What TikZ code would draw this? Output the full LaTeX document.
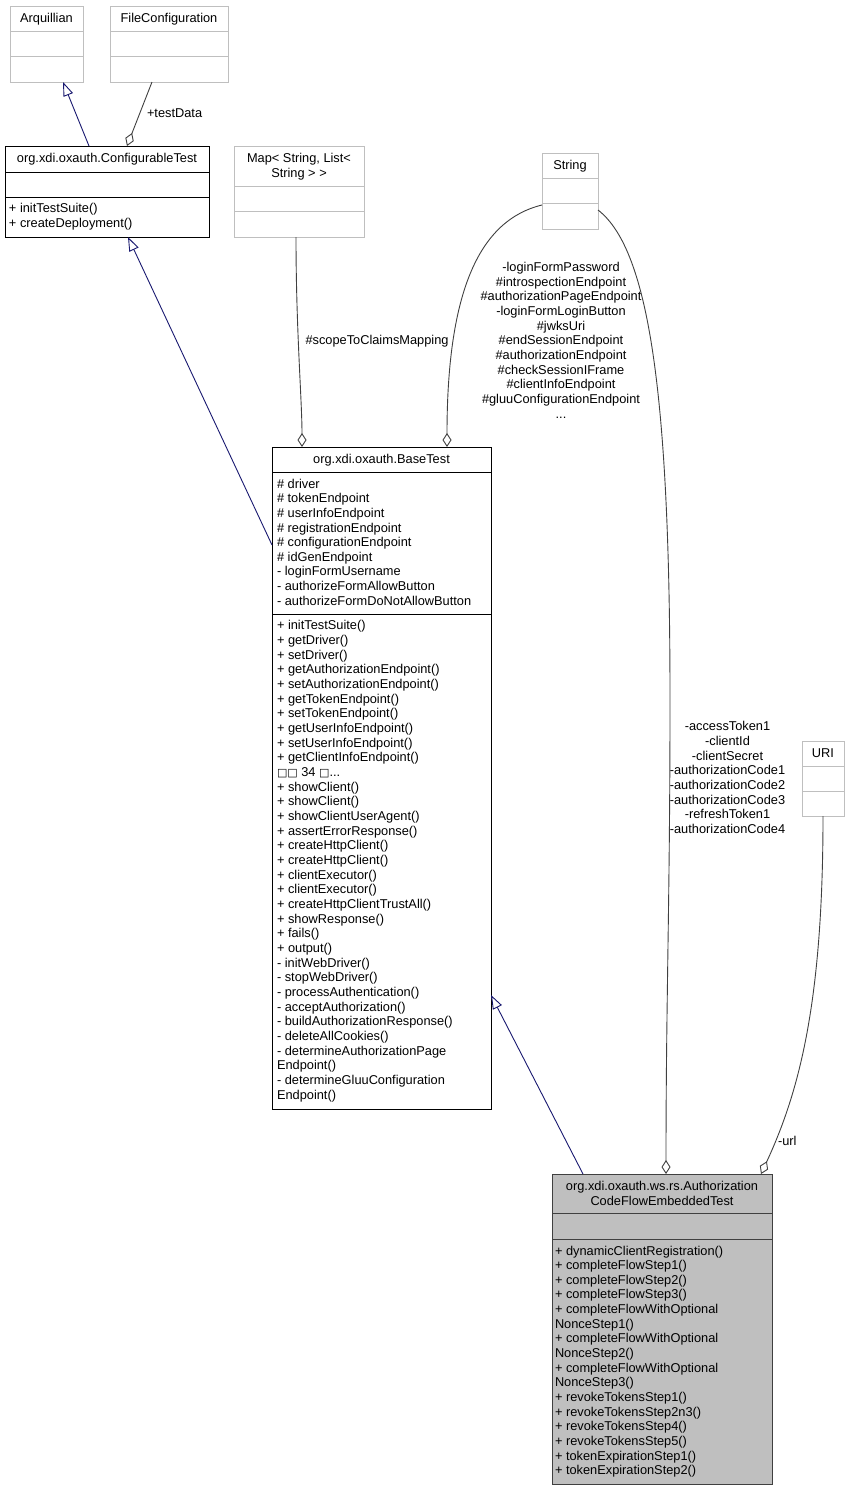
\documentclass[tikz,border=0pt]{standalone}
\usepackage{fontspec}
\setmainfont{Liberation Sans}
\newfontfamily\dejavu{DejaVu Sans}
\usetikzlibrary{arrows.meta}
\definecolor{edgegray}{HTML}{404040}
\definecolor{boxgray}{HTML}{BFBFBF}
\definecolor{navy}{HTML}{191970}
\begin{document}
\begin{tikzpicture}[x=1pt,y=-1pt,
 every node/.style={inner sep=0pt, outer sep=0pt, font=\fontsize{12.8}{14.66}\selectfont},
 cls/.style={draw, rectangle, anchor=north west, line width=0.9pt},
 extcls/.style={cls, draw=boxgray},
 maincls/.style={cls, draw=black},
 curcls/.style={cls, draw=edgegray, fill=boxgray},
 sepext/.style={draw=boxgray, line width=0.9pt},
 sepmain/.style={draw=black, line width=0.9pt},
 sepcur/.style={draw=edgegray, line width=0.9pt},
 title/.style={anchor=base, align=center},
 members/.style={anchor=base west, align=left},
 elabel/.style={align=center, anchor=base},
 inherit/.style={draw=navy, line width=0.9pt, -{Triangle[open, length=14pt, width=10pt, fill=white]}},
 aggr/.style={draw=edgegray, line width=0.9pt, -{Diamond[open, length=14pt, width=9pt, fill=white]}},
]
\useasboundingbox (0,0) rectangle (850,1491);

% (multi-line nodes are placed by the baseline of their LAST line)

% ---------- Arquillian
\node[extcls, minimum width=73pt, minimum height=76pt] (AQ) at (10,6) {};
\draw[sepext] (AQ.west |- 0,31) -- (AQ.east |- 0,31);
\draw[sepext] (AQ.west |- 0,56) -- (AQ.east |- 0,56);
\node[title] (AQt) at (46.5,22) {Arquillian};

% ---------- FileConfiguration
\node[extcls, minimum width=118pt, minimum height=76pt] (FC) at (110,6) {};
\draw[sepext] (FC.west |- 0,31) -- (FC.east |- 0,31);
\draw[sepext] (FC.west |- 0,56) -- (FC.east |- 0,56);
\node[title] (FCt) at (169,22) {FileConfiguration};

% ---------- ConfigurableTest
\node[maincls, minimum width=204pt, minimum height=91pt] (CT) at (5,146) {};
\draw[sepmain] (CT.west |- 0,172) -- (CT.east |- 0,172);
\draw[sepmain] (CT.west |- 0,197) -- (CT.east |- 0,197);
\node[title] (CTt) at (107,162.5) {org.xdi.oxauth.ConfigurableTest};
\node[members] (CTm) at (9,227.2) {+ initTestSuite()\\+ createDeployment()};

% ---------- Map
\node[extcls, minimum width=130pt, minimum height=91pt] (MP) at (234,146) {};
\draw[sepext] (MP.west |- 0,186) -- (MP.east |- 0,186);
\draw[sepext] (MP.west |- 0,211) -- (MP.east |- 0,211);
\node[title] (MPt) at (299,177.2) {Map< String, List<\\String > >};

% ---------- String
\node[extcls, minimum width=56pt, minimum height=76pt] (ST) at (542,153) {};
\draw[sepext] (ST.west |- 0,178) -- (ST.east |- 0,178);
\draw[sepext] (ST.west |- 0,203) -- (ST.east |- 0,203);
\node[title] (STt) at (570,169.5) {String};

% ---------- URI
\node[extcls, minimum width=42pt, minimum height=75pt] (URI) at (802,741) {};
\draw[sepext] (URI.west |- 0,766) -- (URI.east |- 0,766);
\draw[sepext] (URI.west |- 0,791) -- (URI.east |- 0,791);
\node[title] (URIt) at (823,757.5) {URI};

% ---------- BaseTest
\node[maincls, minimum width=219pt, minimum height=662pt] (BT) at (272,447) {};
\draw[sepmain] (BT.west |- 0,472) -- (BT.east |- 0,472);
\draw[sepmain] (BT.west |- 0,614) -- (BT.east |- 0,614);
\node[title] (BTt) at (381.5,463.5) {org.xdi.oxauth.BaseTest};
\node[members] (BTa) at (277,605.3) {\# driver\\\# tokenEndpoint\\\# userInfoEndpoint\\\# registrationEndpoint\\\# configurationEndpoint\\\# idGenEndpoint\\- loginFormUsername\\- authorizeFormAllowButton\\- authorizeFormDoNotAllowButton};
\node[members] (BTm) at (277,1099.1) {+ initTestSuite()\\+ getDriver()\\+ setDriver()\\+ getAuthorizationEndpoint()\\+ setAuthorizationEndpoint()\\+ getTokenEndpoint()\\+ setTokenEndpoint()\\+ getUserInfoEndpoint()\\+ setUserInfoEndpoint()\\+ getClientInfoEndpoint()\\{\dejavu\fontsize{11}{14.66}\selectfont □□} 34 {\dejavu\fontsize{11}{14.66}\selectfont □}...\\+ showClient()\\+ showClient()\\+ showClientUserAgent()\\+ assertErrorResponse()\\+ createHttpClient()\\+ createHttpClient()\\+ clientExecutor()\\+ clientExecutor()\\+ createHttpClientTrustAll()\\+ showResponse()\\+ fails()\\+ output()\\- initWebDriver()\\- stopWebDriver()\\- processAuthentication()\\- acceptAuthorization()\\- buildAuthorizationResponse()\\- deleteAllCookies()\\- determineAuthorizationPage\\Endpoint()\\- determineGluuConfiguration\\Endpoint()};

% ---------- AuthorizationCodeFlowEmbeddedTest
\node[curcls, minimum width=220pt, minimum height=310pt] (AC) at (552,1174) {};
\draw[sepcur] (AC.west |- 0,1213) -- (AC.east |- 0,1213);
\draw[sepcur] (AC.west |- 0,1239) -- (AC.east |- 0,1239);
\node[title] (ACt) at (662,1205.2) {org.xdi.oxauth.ws.rs.Authorization\\CodeFlowEmbeddedTest};
\node[members] (ACm) at (555,1474.9) {+ dynamicClientRegistration()\\+ completeFlowStep1()\\+ completeFlowStep2()\\+ completeFlowStep3()\\+ completeFlowWithOptional\\NonceStep1()\\+ completeFlowWithOptional\\NonceStep2()\\+ completeFlowWithOptional\\NonceStep3()\\+ revokeTokensStep1()\\+ revokeTokensStep2n3()\\+ revokeTokensStep4()\\+ revokeTokensStep5()\\+ tokenExpirationStep1()\\+ tokenExpirationStep2()};

% ---------- connectors
\draw[inherit] ([xshift=84pt]CT.north west) -- ([xshift=53pt]AQ.south west);
\draw[aggr] ([xshift=42pt]FC.south west) -- ([xshift=122pt]CT.north west);
\node[anchor=base west] (lbltd) at (147,117) {+testData};

\draw[inherit] ([yshift=-98pt]BT.north west) -- ([xshift=123pt]CT.south west);

\draw[aggr] ([xshift=62pt]MP.south west) .. controls (296,330) and (302,400) .. ([xshift=30pt]BT.north west);
\node[elabel] (lblsc) at (377,344) {\#scopeToClaimsMapping};

\draw[aggr] ([yshift=-52pt]ST.north west) .. controls (480,220) and (447,290) .. ([xshift=175pt]BT.north west);
\node[elabel] (lblst) at (561,418.1) {-loginFormPassword\\\#introspectionEndpoint\\\#authorizationPageEndpoint\\-loginFormLoginButton\\\#jwksUri\\\#endSessionEndpoint\\\#authorizationEndpoint\\\#checkSessionIFrame\\\#clientInfoEndpoint\\\#gluuConfigurationEndpoint\\...};

\coordinate (mid) at (670,700);
\draw[aggr] ([yshift=-57pt]ST.north east) .. controls (650,250) and (670,400) .. (mid) .. controls (670,900) and (666,1000) .. ([xshift=114pt]AC.north west);
\node[elabel] (lblac) at (727.5,833.6) {-accessToken1\\-clientId\\-clientSecret\\-authorizationCode1\\-authorizationCode2\\-authorizationCode3\\-refreshToken1\\-authorizationCode4};

\draw[aggr] (URI.south) .. controls (823,1000) and (800,1090) .. ([xshift=209pt]AC.north west);
\node[anchor=base west] (lblurl) at (778,1145) {-url};

\draw[inherit] ([xshift=31pt]AC.north west) -- ([yshift=-548pt]BT.north east);
\end{tikzpicture}
\end{document}
